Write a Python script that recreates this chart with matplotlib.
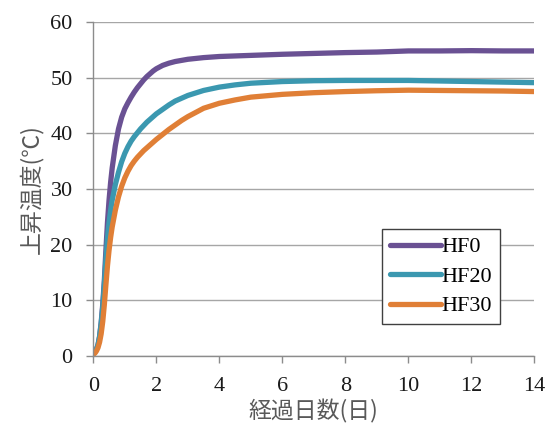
import matplotlib
matplotlib.use("Agg")
import matplotlib.pyplot as plt

days = [0, 0.05, 0.1, 0.15, 0.2, 0.25, 0.3, 0.35, 0.4, 0.45, 0.5, 0.55, 0.6, 0.7, 0.8,
        0.9, 1.0, 1.1, 1.2, 1.3, 1.4, 1.5, 1.6, 1.7, 1.8, 1.9, 2.0, 2.2, 2.4, 2.6, 2.8,
        3.0, 3.5, 4, 4.5, 5, 6, 7, 8, 9, 10, 11, 12, 13, 14]
hf0 = [0.4, 0.7, 1.2, 2.0, 3.5, 6.0, 9.3, 13.5, 19.0, 24.0, 28.0, 31.2, 33.8, 37.8, 40.8,
       42.9, 44.4, 45.5, 46.5, 47.4, 48.2, 48.9, 49.6, 50.2, 50.7, 51.2, 51.6, 52.2, 52.6,
       52.9, 53.1, 53.3, 53.6, 53.8, 53.9, 54.0, 54.2, 54.35, 54.5, 54.6, 54.8, 54.8,
       54.85, 54.8, 54.8]
hf20 = [0.4, 0.7, 1.2, 2.0, 3.5, 5.8, 8.8, 12.8, 17.3, 21.2, 24.0, 26.2, 28.0, 30.8, 33.0,
        34.9, 36.4, 37.6, 38.6, 39.4, 40.1, 40.8, 41.4, 42.0, 42.5, 43.0, 43.5, 44.3, 45.1,
        45.8, 46.3, 46.8, 47.7, 48.3, 48.7, 49.0, 49.3, 49.45, 49.5, 49.5, 49.5, 49.4,
        49.3, 49.2, 49.1]
hf30 = [0.3, 0.5, 0.9, 1.5, 2.5, 4.0, 6.2, 9.2, 12.8, 16.2, 19.0, 21.3, 23.2, 26.2, 28.6,
        30.5, 32.0, 33.2, 34.2, 35.0, 35.7, 36.3, 36.9, 37.4, 37.9, 38.4, 38.9, 39.8, 40.7,
        41.5, 42.3, 43.0, 44.5, 45.4, 46.0, 46.5, 47.0, 47.3, 47.5, 47.65, 47.75, 47.7,
        47.65, 47.6, 47.5]
series_names = ["HF0", "HF20", "HF30"]
colors = ["#6A5193", "#3B98B0", "#E07F36"]
xticks = [0, 2, 4, 6, 8, 10, 12, 14]
yticks = [0, 10, 20, 30, 40, 50, 60]
xlabel = "経過日数(日)"
ylabel = "上昇温度(℃)"

fig = plt.figure(figsize=(5.54, 4.26), dpi=100)
ax = fig.add_axes([0.1684, 0.1643, 0.7964, 0.7841])

for vals, name, c in zip([hf0, hf20, hf30], series_names, colors):
    ax.plot(days, vals, color=c, lw=3.8, label=name, solid_capstyle="round",
            solid_joinstyle="round")

ax.set_xlim(0, 14)
ax.set_ylim(0, 60)
ax.set_xticks(xticks)
ax.set_yticks(yticks)
ax.grid(axis="y", color="#A6A6A6", lw=1.0)
ax.set_axisbelow(True)
for s in ["top", "right"]:
    ax.spines[s].set_visible(False)
for s in ["left", "bottom"]:
    ax.spines[s].set_color("#8C8C8C")
    ax.spines[s].set_linewidth(1.0)
ax.tick_params(axis="both", direction="out", color="#8C8C8C", width=1.0, length=5.3,
               labelsize=16, labelcolor="#1a1a1a")
for lab in ax.get_xticklabels() + ax.get_yticklabels():
    lab.set_fontfamily("Liberation Serif")
ax.tick_params(axis="x", pad=10)
ax.tick_params(axis="y", pad=9.5)

ax.set_xlabel(xlabel, family=["Noto Sans CJK JP", "DejaVu Sans"], fontsize=16.5,
              color="#595959", labelpad=2)
ax.set_ylabel(ylabel, family=["Noto Sans CJK JP", "DejaVu Sans"], fontsize=16.5,
              color="#595959", labelpad=5)

leg = ax.legend(loc="upper left", bbox_to_anchor=(0.654, 0.380), frameon=True,
                fancybox=False, framealpha=1, edgecolor="#404040",
                prop={"family": "Liberation Serif", "size": 16},
                handlelength=2.3, handletextpad=0.05, labelspacing=0.4,
                borderpad=0.35, borderaxespad=0)
leg.get_frame().set_linewidth(1.0)

fig.savefig("out.png", dpi=100)
